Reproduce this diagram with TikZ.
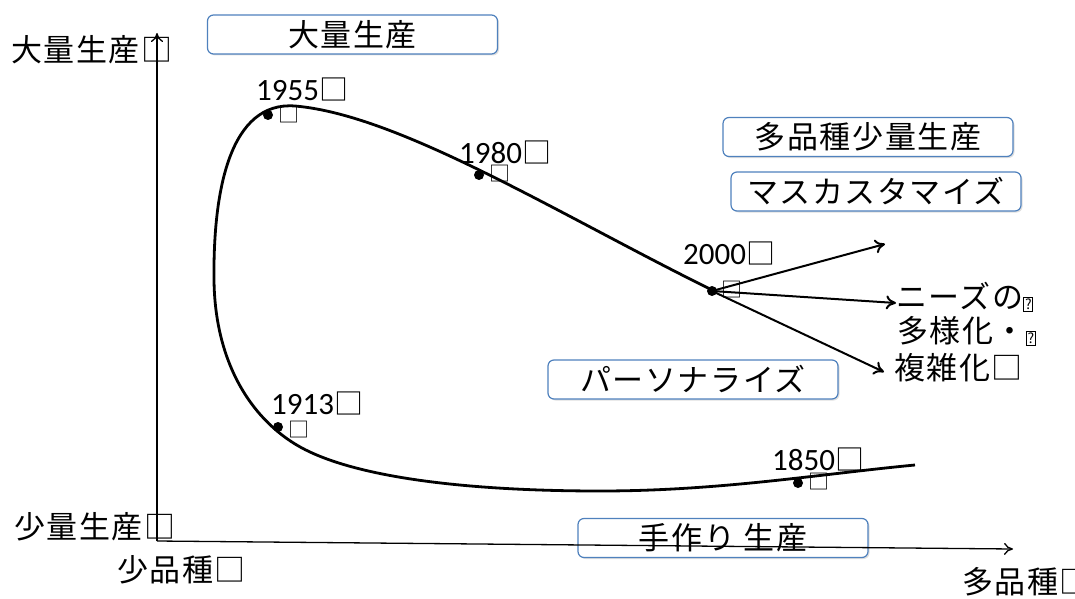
\documentclass[tikz,border=0pt]{standalone}
\usepackage{fontspec}
\setmainfont{Noto Sans CJK JP}
\newfontfamily\jp{Noto Sans CJK JP}[LetterSpace=5]
\newfontfamily\shuzi{Carlito}
\usetikzlibrary{arrows.meta,shadows}

\definecolor{kuangblue}{RGB}{79,129,189}

% 问号小方块(原图里缺字的地方)
\newcommand\wenhao{\raisebox{-1pt}{\fboxsep=0.8pt\fboxrule=0.9pt\fbox{\fontsize{14}{14}\selectfont ?}}}

\begin{document}
\begin{tikzpicture}[x=1pt,y=-1pt]

  % 设置各种style
  \tikzset{
    kuang/.style={draw=kuangblue, line width=1.2pt, fill=white,
      rounded corners=6pt, minimum width=290pt, minimum height=39pt,
      inner sep=0pt, font=\jp\fontsize{31}{31}\selectfont,
      drop shadow={shadow xshift=1.5pt, shadow yshift=-1.5pt, opacity=0.25}},
    biaoqian/.style={anchor=west, inner sep=0pt, font=\jp\fontsize{31}{31}\selectfont},
    nianfen/.style={anchor=west, inner sep=0pt, font=\fontsize{29}{29}\selectfont},
    dian/.style={circle, fill=black, inner sep=0pt, minimum size=10pt},
    xiaokuang/.style={inner sep=0pt, font=\fontsize{21}{21}\selectfont},
    zhou/.style={line width=1.3pt, -{To[length=9pt,width=12pt]}},
    quxian/.style={line width=2.8pt},
    jiantou/.style={line width=2pt, -{To[length=10pt,width=14pt]}}
  }

  \useasboundingbox (0,0) rectangle (1075,599);

  % 框
  \node[kuang] (dali) at (352.5,34.5) {大量生産};
  \node[kuang] (duopin) at (868,137) {多品種少量生産};
  \node[kuang] (masu) at (876,191.5) {マスカスタマイズ};
  \node[kuang] (geren) at (693,379.5) {パーソナライズ};
  \node[kuang] (shougong) at (723,538) {手作り 生産};

  % 坐标轴
  \coordinate (O) at (157,541);
  \coordinate (ytop) at (157,33);
  \coordinate (xend) at (1013,549);
  \draw[zhou] (O) -- (ytop);
  \draw[zhou] (O) -- (xend);

  % 轴的文字
  \node[biaoqian] (ydali) at (11,50) {大量生産□};
  \node[biaoqian] (yshao) at (14,527) {少量生産□};
  \node[biaoqian] (xshao) at (117,570) {少品種□};
  \node[biaoqian] (xduo) at (962,582) {多品種□};

  % 画曲线
  \draw[quxian] (712,290) .. controls (560,215) and (400,115) .. (295,106)
    .. controls (230,101) and (213,190) .. (214,280)
    .. controls (215,370) and (258,428) .. (310,452)
    .. controls (370,480) and (480,491) .. (600,491)
    .. controls (720,491) and (820,474) .. (915,465);

  % 年份和点
  \node[dian] (d1955) at (268,115) {};
  \node[xiaokuang] (k1955) at (289,115) {□};
  \node[nianfen] (n1955) at (256,89) {{\shuzi\fontsize{31}{31}\selectfont 1955}□};

  \node[dian] (d1980) at (479,175) {};
  \node[xiaokuang] (k1980) at (500,174) {□};
  \node[nianfen] (n1980) at (459,152) {{\shuzi\fontsize{31}{31}\selectfont 1980}□};

  \node[dian] (d2000) at (712,291) {};
  \node[xiaokuang] (k2000) at (732,290) {□};
  \node[nianfen] (n2000) at (683,253) {{\shuzi\fontsize{31}{31}\selectfont 2000}□};

  \node[dian] (d1913) at (278,427) {};
  \node[xiaokuang] (k1913) at (299,430) {□};
  \node[nianfen] (n1913) at (271,403) {{\shuzi\fontsize{31}{31}\selectfont 1913}□};

  \node[dian] (d1850) at (798,483) {};
  \node[xiaokuang] (k1850) at (819,482) {□};
  \node[nianfen] (n1850) at (772,459) {{\shuzi\fontsize{31}{31}\selectfont 1850}□};

  % 箭头
  \coordinate (jt1) at (885,244);
  \coordinate (jt2) at (896,303);
  \coordinate (jt3) at (884,372);
  \draw[jiantou] (d2000.center) -- (jt1);
  \draw[jiantou] (d2000.center) -- (jt2);
  \draw[jiantou] (d2000.center) -- (jt3);

  % 右边的文字
  \node[biaoqian] (xuqiu1) at (896,297) {ニーズの\wenhao};
  \node[biaoqian] (xuqiu2) at (897,331) {多様化・\wenhao};
  \node[biaoqian] (xuqiu3) at (894,368) {複雑化□};

\end{tikzpicture}
\end{document}
